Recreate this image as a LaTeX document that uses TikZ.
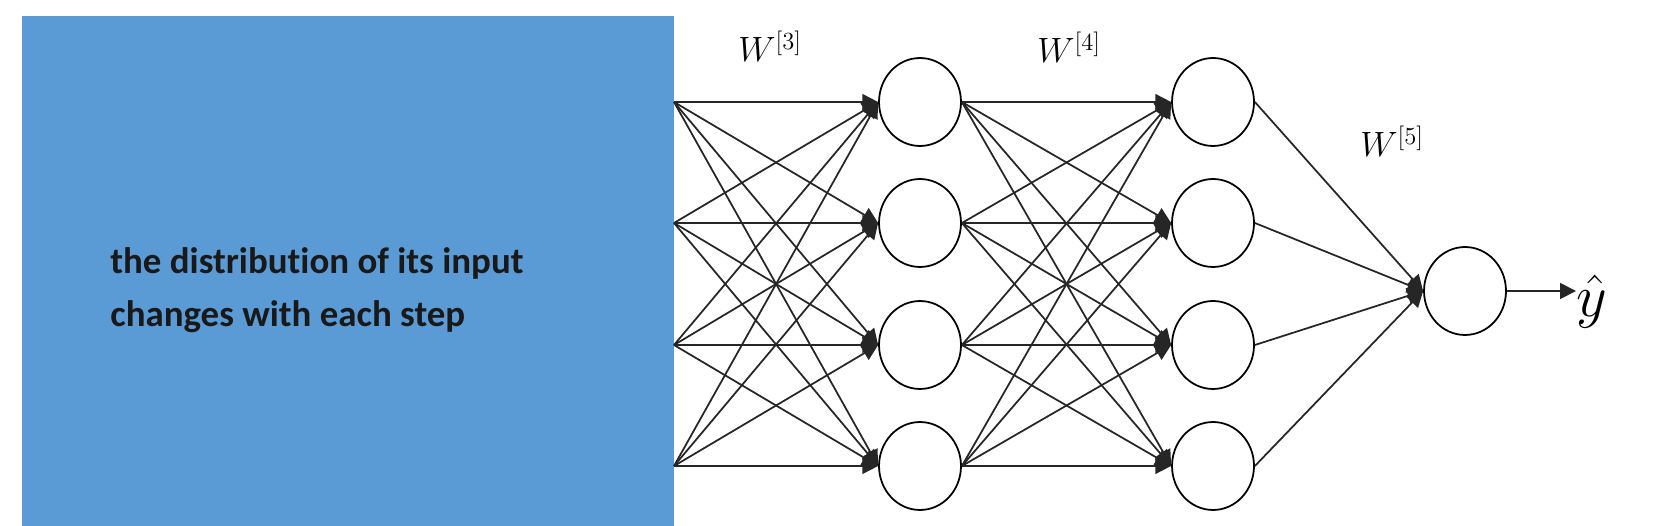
\RequirePackage{fix-cm}
\documentclass[tikz,border=0pt]{standalone}
\usepackage{fontspec}
\setmainfont{Carlito}[Ligatures=NoCommon,Contextuals=NoAlternate]
\usetikzlibrary{shapes.geometric,arrows.meta}
\definecolor{boxblue}{HTML}{5B9BD5}

\begin{document}
\begin{tikzpicture}[x=0.02cm,y=-0.02cm,
    neuron/.style={draw,ellipse,line width=1pt,minimum width=1.64cm,minimum height=1.76cm,inner sep=0pt,fill=white},
    wire/.style={line width=1pt,black!85,-{Triangle[length=9pt,width=9pt]}},
    wlbl/.style={anchor=base west,inner sep=0pt,font=\fontsize{20}{24}\selectfont},
    txt/.style={anchor=base west,inner sep=0pt,font=\fontsize{21}{25}\selectfont\bfseries,text=black!90}]
  \useasboundingbox (0,0) rectangle (1662,526);
  \fill[boxblue] (22,16) rectangle (674,526);
  \node[txt] (L1) at (110,274) {the distribution of its input};
  \node[txt] (L2) at (110,327) {changes with each step};
  % layers
  \foreach \i/\y in {1/102,2/223,3/345,4/466}{
    \coordinate (I\i) at (674,\y);
    \node[neuron] (A\i) at (920,\y) {};
    \node[neuron] (B\i) at (1213,\y) {};
  }
  \node[neuron] (O) at (1465,291) {};
  \node[anchor=west,inner sep=0pt,font=\fontsize{34}{40}\selectfont] (Y) at (1576,302) {$\hat{y}$};
  % weights
  \foreach \i in {1,...,4}{
    \foreach \j in {1,...,4}{
      \draw[wire] (I\i) -- (A\j.west);
      \draw[wire] (A\i.east) -- (B\j.west);
    }
    \draw[wire] (B\i.east) -- (O.west);
  }
  \draw[wire] (O.east) -- (O.east -| Y.west);
  \node[wlbl] (W3) at (738,62) {$W^{[3]}$};
  \node[wlbl] (W4) at (1037,63) {$W^{[4]}$};
  \node[wlbl] (W5) at (1360,157) {$W^{[5]}$};
\end{tikzpicture}
\end{document}
